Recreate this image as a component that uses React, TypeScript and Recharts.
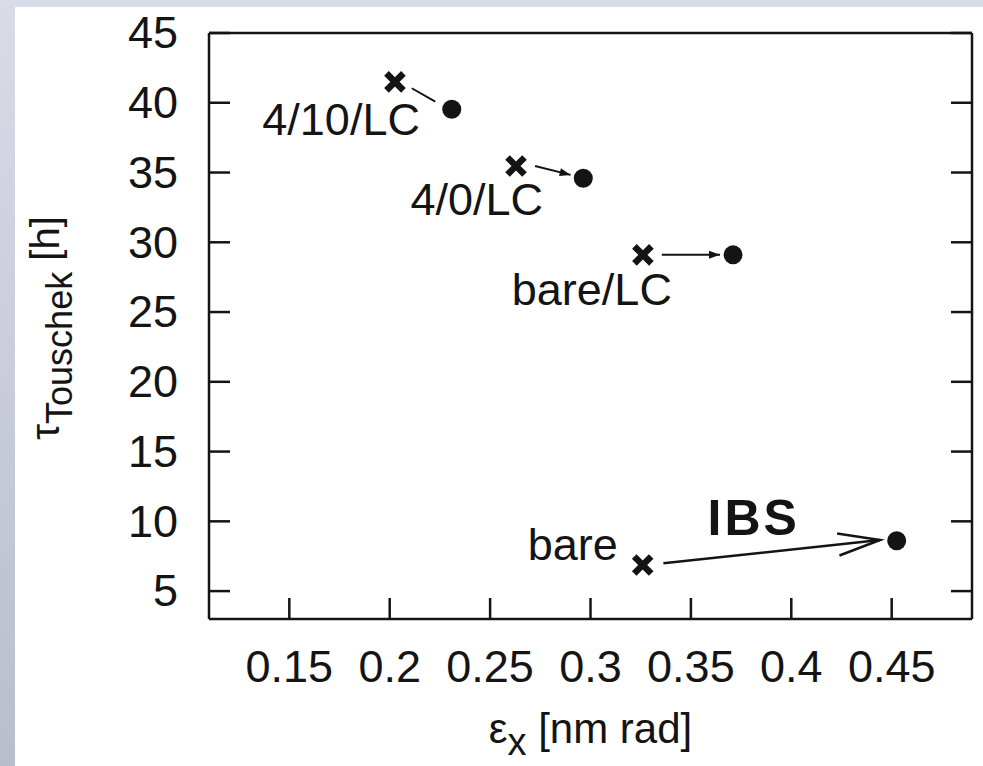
import { ScatterChart, Scatter, XAxis, YAxis, ReferenceLine, Label } from "recharts";

const xTicks = [0.15, 0.2, 0.25, 0.3, 0.35, 0.4, 0.45];
const yTicks = [5, 10, 15, 20, 25, 30, 35, 40, 45];

// lattice cases, emittance [nm rad] and Touschek lifetime [h]
const cases = ["4/10/LC", "4/0/LC", "bare/LC", "bare"];
const emitNoIbs = [0.2026, 0.2629, 0.3261, 0.326];
const lifeNoIbs = [41.5, 35.47, 29.1, 6.87];
const emitIbs = [0.2309, 0.2964, 0.371, 0.4525];
const lifeIbs = [39.54, 34.59, 29.1, 8.61];

// arrow from the no-IBS point to the IBS point
const arrowX0 = [0.211, 0.2724, 0.3355, 0.3363];
const arrowY0 = [41.04, 35.47, 29.1, 6.99];
const arrowX1 = [0.2227, 0.2901, 0.3645, 0.4442];
const arrowY1 = [40.08, 34.83, 29.1, 8.66];

const FONT = "'Liberation Sans', Arial, Helvetica, sans-serif";
const INK = "#141414";

// label placement relative to the cross marker
const labelPos = [
  { dx: 25, dy: 53, anchor: "end" },
  { dx: 27, dy: 49, anchor: "end" },
  { dx: 29, dy: 50, anchor: "end" },
  { dx: -25, dy: -5, anchor: "end" },
];
const heads = ["none", "filled", "filled", "open"];

const before = cases.map((name, i) => ({ x: emitNoIbs[i], y: lifeNoIbs[i], name, i }));
const after = cases.map((name, i) => ({ x: emitIbs[i], y: lifeIbs[i], name }));

function Cross(props: any) {
  const { cx, cy, payload } = props;
  const s = 8.5;
  const lp = labelPos[payload.i];
  return (
    <g>
      <path
        d={`M${cx - s},${cy - s}L${cx + s},${cy + s}M${cx + s},${cy - s}L${cx - s},${cy + s}`}
        stroke={INK}
        strokeWidth={6.5}
        fill="none"
      />
      <text x={cx + lp.dx} y={cy + lp.dy} textAnchor={lp.anchor} fontSize={45} fontFamily={FONT} fill={INK}>
        {payload.name}
      </text>
    </g>
  );
}

function Dot(props: any) {
  const { cx, cy } = props;
  return <circle cx={cx} cy={cy} r={9.5} fill={INK} />;
}

function Arrow(props: any) {
  const { x1, y1, x2, y2, head, caption } = props;
  const a = Math.atan2(y2 - y1, x2 - x1);
  const ux = Math.cos(a);
  const uy = Math.sin(a);
  let tip = null;
  if (head === "filled") {
    const L = 11;
    const W = 4;
    const bx = x2 - ux * L;
    const by = y2 - uy * L;
    tip = (
      <polygon points={`${x2},${y2} ${bx - uy * W},${by + ux * W} ${bx + uy * W},${by - ux * W}`} fill={INK} />
    );
  } else if (head === "open") {
    const L = 42;
    const W = 11;
    const bx = x2 - ux * L;
    const by = y2 - uy * L;
    tip = (
      <path
        d={`M${bx - uy * W},${by + ux * W}L${x2},${y2}L${bx + uy * W},${by - ux * W}`}
        stroke={INK}
        strokeWidth={2.5}
        fill="none"
      />
    );
  }
  return (
    <g>
      <line x1={x1} y1={y1} x2={x2} y2={y2} stroke={INK} strokeWidth={head === "open" ? 2.5 : 2} />
      {tip}
      {caption ? (
        <text
          x={(x1 + x2) / 2 - 18}
          y={(y1 + y2) / 2 - 17}
          textAnchor="middle"
          fontSize={50}
          fontWeight="bold"
          letterSpacing={3}
          fontFamily={FONT}
          fill={INK}
        >
          {caption}
        </text>
      ) : null}
    </g>
  );
}

function BottomTick(props: any) {
  const { x, y, payload } = props;
  return (
    <g>
      <line x1={x} y1={y} x2={x} y2={y - 21} stroke={INK} strokeWidth={2.5} />
      <text x={x} y={y + 63} textAnchor="middle" fontSize={45} fontFamily={FONT} fill={INK}>
        {payload.value}
      </text>
    </g>
  );
}

function TopTick(props: any) {
  const { x, y } = props;
  return <line x1={x} y1={y} x2={x} y2={y + 21} stroke={INK} strokeWidth={2.5} />;
}

function LeftTick(props: any) {
  const { x, y, payload } = props;
  return (
    <g>
      <line x1={x} y1={y} x2={x + 21} y2={y} stroke={INK} strokeWidth={2.5} />
      <text x={x - 31} y={y} dy="0.34em" textAnchor="end" fontSize={45} fontFamily={FONT} fill={INK}>
        {payload.value}
      </text>
    </g>
  );
}

function RightTick(props: any) {
  const { x, y } = props;
  return <line x1={x} y1={y} x2={x - 21} y2={y} stroke={INK} strokeWidth={2.5} />;
}

function XTitle(props: any) {
  const { x, y, width } = props.viewBox;
  return (
    <text x={x + width / 2} y={y + 124} textAnchor="middle" fontSize={42} fontFamily={FONT} fill={INK}>
      <tspan>ε</tspan>
      <tspan dy={12} fontSize={38}>x</tspan>
      <tspan dy={-12}> [nm rad]</tspan>
    </text>
  );
}

function YTitle(props: any) {
  const { y, height } = props.viewBox;
  const cx = 59;
  const cy = y + height / 2 + 2;
  return (
    <text
      x={cx}
      y={cy}
      transform={`rotate(-90, ${cx}, ${cy})`}
      textAnchor="middle"
      fontSize={40}
      fontFamily={FONT}
      fill={INK}
    >
      <tspan>τ</tspan>
      <tspan dy={13} fontSize={36}>Touschek</tspan>
      <tspan dy={-13}> [h]</tspan>
    </text>
  );
}

const axisLine = { stroke: INK, strokeWidth: 2.5 };

export default function App() {
  return (
    <div
      style={{
        position: "absolute",
        left: 0,
        top: 0,
        width: 983,
        height: 766,
        background: "linear-gradient(180deg, #d9dce7 0%, #c6c9d6 60%, #babecb 100%)",
        overflow: "hidden",
      }}
    >
      <div style={{ position: "absolute", left: 15, top: 7, right: 0, bottom: 0, background: "#fff" }} />
      <div style={{ position: "absolute", left: 0, top: 0 }}>
        <ScatterChart width={983} height={766} margin={{ top: 32, right: 10, bottom: 17, left: 9 }}>
          <XAxis
            type="number"
            dataKey="x"
            domain={[0.11, 0.49]}
            allowDataOverflow
            ticks={xTicks}
            interval={0}
            tickSize={0}
            tickMargin={0}
            tickLine={false}
            tick={<BottomTick />}
            axisLine={axisLine}
            height={130}
          >
            <Label content={<XTitle />} />
          </XAxis>
          <XAxis
            xAxisId="top"
            orientation="top"
            type="number"
            domain={[0.11, 0.49]}
            allowDataOverflow
            ticks={xTicks}
            interval={0}
            tickSize={0}
            tickMargin={0}
            tickLine={false}
            tick={<TopTick />}
            axisLine={axisLine}
            height={1}
          />
          <YAxis
            type="number"
            dataKey="y"
            domain={[3, 45]}
            allowDataOverflow
            ticks={yTicks}
            interval={0}
            tickSize={0}
            tickMargin={0}
            tickLine={false}
            tick={<LeftTick />}
            axisLine={axisLine}
            width={200}
          >
            <Label content={<YTitle />} />
          </YAxis>
          <YAxis
            yAxisId="right"
            orientation="right"
            type="number"
            domain={[3, 45]}
            allowDataOverflow
            ticks={yTicks}
            interval={0}
            tickSize={0}
            tickMargin={0}
            tickLine={false}
            tick={<RightTick />}
            axisLine={axisLine}
            width={1}
          />
          {cases.map((name, i) => (
            <ReferenceLine
              key={name}
              segment={[
                { x: arrowX0[i], y: arrowY0[i] },
                { x: arrowX1[i], y: arrowY1[i] },
              ]}
              shape={(p: any) => <Arrow {...p} head={heads[i]} caption={name === "bare" ? "IBS" : undefined} />}
            />
          ))}
          <Scatter data={before} shape={<Cross />} isAnimationActive={false} />
          <Scatter data={after} shape={<Dot />} isAnimationActive={false} />
        </ScatterChart>
      </div>
    </div>
  );
}
